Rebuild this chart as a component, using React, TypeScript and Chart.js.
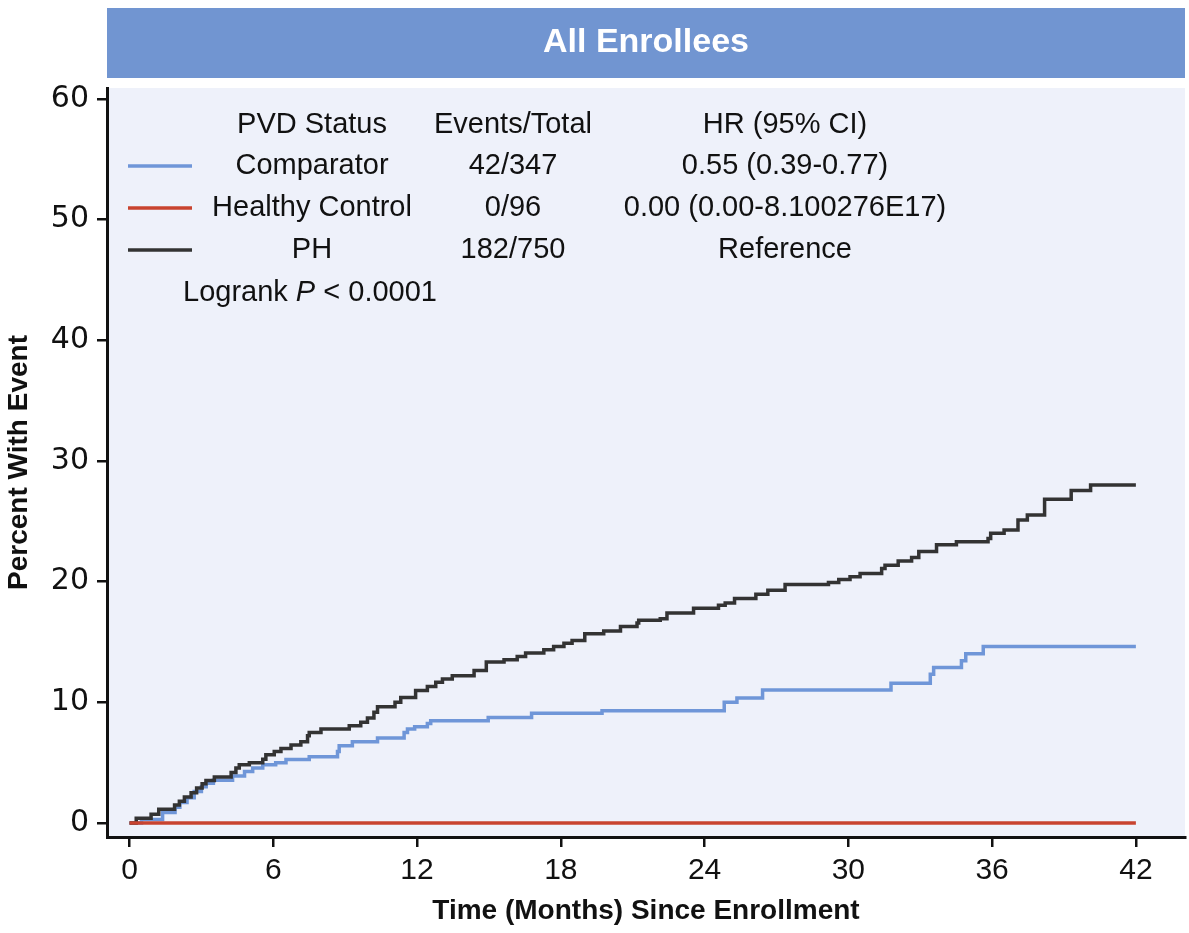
import { useEffect, useRef } from 'react';
import { Chart, registerables } from 'chart.js';

Chart.register(...registerables);

const titleText = 'All Enrollees';
const xTitle = 'Time (Months) Since Enrollment';
const yTitle = 'Percent With Event';

const xTicks = [0, 6, 12, 18, 24, 30, 36, 42];
const yTicks = [0, 10, 20, 30, 40, 50, 60];

const phTimes = [0, 0.28, 0.9, 1.22, 1.88, 2.08, 2.29, 2.57, 2.8, 3.03, 3.19, 3.54, 4.24, 4.44, 4.58, 5.0, 5.56, 5.69, 6.04, 6.32, 6.74, 7.15, 7.43, 7.5, 7.99, 9.17, 9.65, 9.93, 10.2, 10.35, 11.08, 11.32, 11.94, 12.43, 12.78, 13.06, 13.47, 14.38, 14.89, 15.63, 16.18, 16.53, 17.29, 17.7, 18.13, 18.47, 19.0, 19.79, 20.49, 21.18, 21.25, 22.15, 22.43, 23.54, 24.58, 24.86, 25.25, 26.14, 26.64, 27.36, 29.17, 29.6, 30.07, 30.49, 31.39, 31.53, 32.08, 32.64, 32.94, 33.68, 34.51, 35.83, 35.94, 36.5, 37.08, 37.47, 38.19, 39.3, 40.11, 42.0];
const phValues = [0, 0.4, 0.72, 1.14, 1.5, 1.8, 2.16, 2.5, 2.9, 3.25, 3.53, 3.82, 4.18, 4.55, 4.82, 5.0, 5.28, 5.65, 5.93, 6.18, 6.46, 6.73, 7.23, 7.5, 7.79, 8.06, 8.34, 8.7, 9.17, 9.64, 10.0, 10.4, 10.97, 11.3, 11.66, 11.94, 12.2, 12.63, 13.33, 13.52, 13.8, 14.08, 14.36, 14.63, 14.9, 15.13, 15.68, 15.9, 16.29, 16.57, 16.79, 16.93, 17.4, 17.8, 18.04, 18.23, 18.6, 18.95, 19.29, 19.76, 19.92, 20.17, 20.4, 20.67, 21.09, 21.36, 21.7, 22.0, 22.5, 23.05, 23.3, 23.58, 24.0, 24.27, 25.1, 25.52, 26.82, 27.54, 28.0, 28.0];

const comparatorTimes = [0, 0.5, 1.38, 1.9, 2.1, 2.4, 2.7, 3.0, 3.2, 3.5, 4.3, 4.8, 5.14, 5.56, 6.1, 6.53, 7.5, 8.68, 8.75, 9.3, 10.35, 11.46, 11.6, 11.9, 12.43, 12.57, 14.97, 16.78, 19.72, 24.82, 25.35, 26.42, 31.78, 33.42, 33.56, 34.72, 34.9, 35.63, 42.0];
const comparatorValues = [0, 0.3, 0.86, 1.3, 1.7, 2.1, 2.6, 3.0, 3.3, 3.55, 3.9, 4.27, 4.55, 4.82, 5.0, 5.26, 5.49, 5.93, 6.4, 6.73, 7.04, 7.5, 7.79, 7.98, 8.25, 8.48, 8.75, 9.09, 9.31, 10.0, 10.36, 11.03, 11.58, 12.33, 12.88, 13.44, 14.02, 14.63, 14.63];

const healthyTimes = [0, 42];
const healthyValues = [0, 0];

const legendHeaders = ['PVD Status', 'Events/Total', 'HR (95% CI)'];
const groupNames = ['Comparator', 'Healthy Control', 'PH'];
const eventsTotals = ['42/347', '0/96', '182/750'];
const hazardRatios = ['0.55 (0.39-0.77)', '0.00 (0.00-8.100276E17)', 'Reference'];
const logrankPrefix = 'Logrank ';
const logrankItalic = 'P';
const logrankSuffix = ' < 0.0001';

const seriesColors = ['#6f96d8', '#c8432f', '#333333'];

const FONT = '"Liberation Sans", Arial, sans-serif';

function toPoints(ts: number[], vs: number[]) {
  return ts.map((t, i) => ({ x: t, y: vs[i] }));
}

export default function App() {
  const ref = useRef<HTMLCanvasElement | null>(null);
  useEffect(() => {
    document.body.style.margin = '0';
    const canvas = ref.current;
    if (!canvas) return;

    const decor = {
      id: 'decor',
      beforeDraw(chart: any) {
        const { ctx, chartArea } = chart;
        ctx.save();
        ctx.fillStyle = '#ffffff';
        ctx.fillRect(0, 0, chart.width, chart.height);
        ctx.fillStyle = '#eef1fa';
        ctx.fillRect(chartArea.left, chartArea.top, chartArea.right - chartArea.left, chartArea.bottom - chartArea.top);
        ctx.fillStyle = '#7195d1';
        ctx.fillRect(chartArea.left, 8, chartArea.right - chartArea.left, 70);
        ctx.fillStyle = '#ffffff';
        ctx.font = `bold 34px ${FONT}`;
        ctx.textAlign = 'center';
        ctx.textBaseline = 'middle';
        ctx.fillText(titleText, (chartArea.left + chartArea.right) / 2, 43);
        ctx.restore();
      },
      afterDatasetsDraw(chart: any) {
        const { ctx, chartArea } = chart;
        const L = chartArea.left;
        const T = chartArea.top;
        ctx.save();
        ctx.fillStyle = '#111111';
        ctx.font = `29px ${FONT}`;
        ctx.textBaseline = 'middle';
        ctx.textAlign = 'center';
        const cols = [L + 205, L + 406, L + 678];
        const rows = [T + 37, T + 78, T + 120, T + 162];
        legendHeaders.forEach((h, i) => ctx.fillText(h, cols[i], rows[0]));
        groupNames.forEach((g, r) => {
          const y = rows[r + 1];
          ctx.strokeStyle = seriesColors[r];
          ctx.lineWidth = 3.5;
          ctx.beginPath();
          ctx.moveTo(L + 21, y);
          ctx.lineTo(L + 85, y);
          ctx.stroke();
          ctx.fillText(g, cols[0], y);
          ctx.fillText(eventsTotals[r], cols[1], y);
          ctx.fillText(hazardRatios[r], cols[2], y);
        });
        ctx.textAlign = 'left';
        let x = L + 76;
        const y = T + 205;
        ctx.font = `29px ${FONT}`;
        ctx.fillText(logrankPrefix, x, y);
        x += ctx.measureText(logrankPrefix).width;
        ctx.font = `italic 29px ${FONT}`;
        ctx.fillText(logrankItalic, x, y);
        x += ctx.measureText(logrankItalic).width;
        ctx.font = `29px ${FONT}`;
        ctx.fillText(logrankSuffix, x, y);
        ctx.restore();
      },
    };

    const chart = new Chart(canvas, {
      type: 'line',
      data: {
        datasets: [
          {
            label: groupNames[2],
            data: toPoints(phTimes, phValues),
            borderColor: seriesColors[2],
            borderWidth: 3.5,
            stepped: 'before',
            pointRadius: 0,
            fill: false,
            order: 1,
          },
          {
            label: groupNames[0],
            data: toPoints(comparatorTimes, comparatorValues),
            borderColor: seriesColors[0],
            borderWidth: 3.5,
            stepped: 'before',
            pointRadius: 0,
            fill: false,
            order: 2,
          },
          {
            label: groupNames[1],
            data: toPoints(healthyTimes, healthyValues),
            borderColor: seriesColors[1],
            borderWidth: 3.5,
            stepped: 'before',
            pointRadius: 0,
            fill: false,
            order: 0,
          },
        ],
      },
      options: {
        animation: false,
        responsive: false,
        devicePixelRatio: 1,
        layout: { padding: { top: 88, right: 4, left: 0, bottom: 0 } },
        plugins: { legend: { display: false }, tooltip: { enabled: false }, title: { display: false } },
        scales: {
          x: {
            type: 'linear',
            min: -0.94,
            max: 44.05,
            afterBuildTicks: (scale: any) => {
              scale.ticks = xTicks.map((v) => ({ value: v }));
            },
            afterFit: (scale: any) => {
              scale.height = 96;
            },
            ticks: { color: '#111', font: { family: FONT, size: 30 }, padding: 6, maxRotation: 0, autoSkip: false },
            grid: { drawOnChartArea: false, drawTicks: true, tickLength: 10, color: '#111', lineWidth: 2.5 },
            border: { color: '#111', width: 3 },
            title: { display: true, text: xTitle, color: '#111', font: { family: FONT, size: 28, weight: 'bold' }, padding: { top: 0, bottom: 5 } },
          },
          y: {
            type: 'linear',
            min: -1.16,
            max: 60.9,
            afterBuildTicks: (scale: any) => {
              scale.ticks = yTicks.map((v) => ({ value: v }));
            },
            afterFit: (scale: any) => {
              scale.width = 107;
            },
            ticks: { color: '#111', font: { family: '"DejaVu Sans", sans-serif', size: 30 }, padding: 8, autoSkip: false },
            grid: { drawOnChartArea: false, drawTicks: true, tickLength: 10, color: '#111', lineWidth: 2.5 },
            border: { color: '#111', width: 3 },
            title: { display: true, text: yTitle, color: '#111', font: { family: FONT, size: 28, weight: 'bold' }, padding: { top: 2, bottom: 0 } },
          },
        },
      },
      plugins: [decor],
    } as any);
    return () => chart.destroy();
  }, []);
  return <canvas ref={ref} width={1189} height={933} style={{ display: 'block' }} />;
}
